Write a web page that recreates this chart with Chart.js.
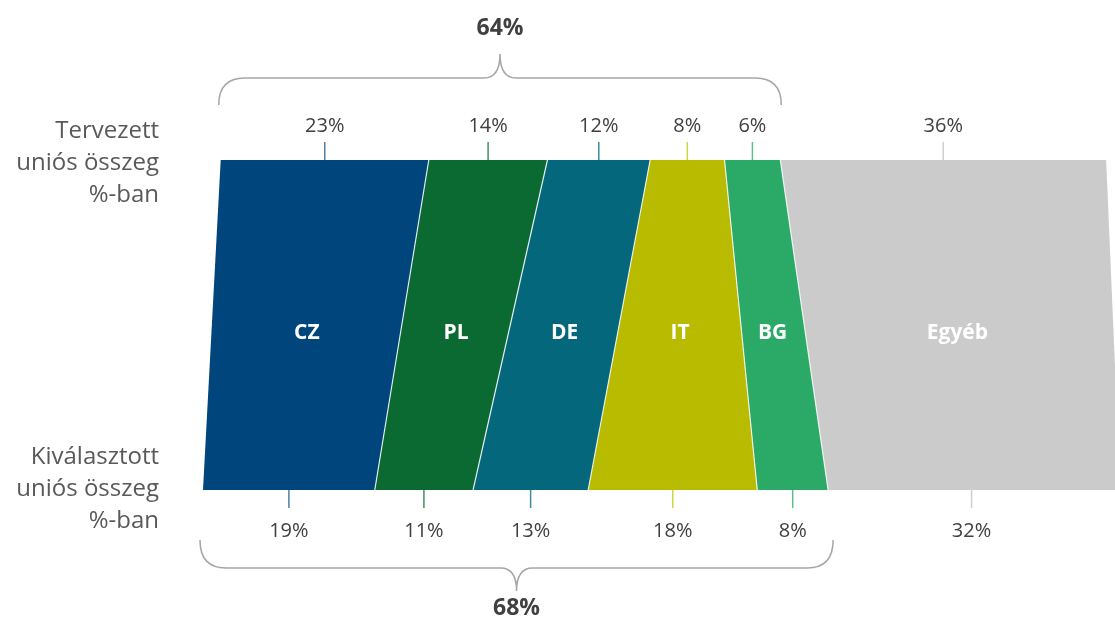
<!DOCTYPE html>
<html lang="hu">
<head>
<meta charset="utf-8">
<title>Tervezett és kiválasztott uniós összeg</title>
<script src="https://cdn.jsdelivr.net/npm/chart.js@4.4.1/dist/chart.umd.min.js"></script>
<style>
  html, body { margin: 0; padding: 0; background: #fff; }
  #wrap { width: 1115px; height: 635px; }
</style>
</head>
<body>
<div id="wrap"><canvas id="chart" width="1115" height="635"></canvas></div>
<script>
// --- data ---
const countries = ['CZ', 'PL', 'DE', 'IT', 'BG', 'Egyéb'];
const rowNames = ['Tervezett', 'Kiválasztott'];
const rowLabels = [
  ['Tervezett', 'uniós összeg', '%-ban'],
  ['Kiválasztott', 'uniós összeg', '%-ban']
];
// band widths as drawn (share of EU amount, %)
const plannedShare = [23.5, 13.4, 11.6, 8.4, 6.3, 36.8];
const selectedShare = [19.4, 11.1, 13.0, 19.1, 8.0, 33.0];
// values printed next to the bands
const plannedLabels = ['23%', '14%', '12%', '8%', '6%', '36%'];
const selectedLabels = ['19%', '11%', '13%', '18%', '8%', '32%'];
// first five countries together (top brace, bottom brace)
const groupTotals = ['64%', '68%'];

// --- styles ---
const fillColors = ['#00457b', '#0b6a32', '#04677c', '#b8bb00', '#2ba967', '#cbcbcc'];
const tickColors = ['#4d7fa6', '#3f9263', '#3a8c9e', '#d2d43c', '#5cbf8a', '#cfcfcf'];
const PLAN_SHIFT = 2; // top band starts a little to the right of the bottom one
const FONT = '"Open Sans", "Liberation Sans", sans-serif';

function cumulate(arr, start) {
  const out = [start];
  arr.forEach(v => out.push(out[out.length - 1] + v));
  return out;
}
const planEdges = cumulate(plannedShare, PLAN_SHIFT);
const selEdges = cumulate(selectedShare, 0);

// one line per band edge, each filled to the previous edge
const datasets = planEdges.map((p, i) => ({
  label: i === 0 ? 'start' : countries[i - 1],
  data: [p, selEdges[i]],
  fill: i === 0 ? false : '-1',
  backgroundColor: i === 0 ? 'transparent' : fillColors[i - 1],
  borderColor: (i === 0 || i === planEdges.length - 1) ? 'transparent' : 'rgba(255,255,255,0.85)',
  borderWidth: 1.2,
  pointRadius: 0,
  tension: 0
}));

function brace(ctx, x0, x1, yEnd, yBar, yTip) {
  const mid = (x0 + x1) / 2;
  ctx.beginPath();
  ctx.moveTo(x0, yEnd);
  ctx.quadraticCurveTo(x0, yBar, x0 + 26, yBar);
  ctx.lineTo(mid - 16, yBar);
  ctx.quadraticCurveTo(mid, yBar, mid, yTip);
  ctx.quadraticCurveTo(mid, yBar, mid + 16, yBar);
  ctx.lineTo(x1 - 26, yBar);
  ctx.quadraticCurveTo(x1, yBar, x1, yEnd);
  ctx.stroke();
}

const bandText = {
  id: 'bandText',
  afterDatasetsDraw(chart) {
    const { ctx, chartArea: a, scales: { x } } = chart;
    const top = a.top, bottom = a.bottom;
    ctx.save();
    ctx.textAlign = 'center';
    ctx.textBaseline = 'middle';

    countries.forEach((name, i) => {
      const tx = (x.getPixelForValue(planEdges[i]) + x.getPixelForValue(planEdges[i + 1])) / 2;
      const bx = (x.getPixelForValue(selEdges[i]) + Math.min(x.getPixelForValue(selEdges[i + 1]), a.right)) / 2;

      ctx.strokeStyle = tickColors[i];
      ctx.lineWidth = 1.5;
      ctx.beginPath();
      ctx.moveTo(tx, top - 18);
      ctx.lineTo(tx, top);
      ctx.moveTo(bx, bottom);
      ctx.lineTo(bx, bottom + 18);
      ctx.stroke();

      ctx.fillStyle = '#404040';
      ctx.font = '20px ' + FONT;
      ctx.fillText(plannedLabels[i], tx, top - 34);
      ctx.fillText(selectedLabels[i], bx, bottom + 41);

      ctx.fillStyle = '#ffffff';
      ctx.font = 'bold 21px ' + FONT;
      ctx.fillText(name, (tx + bx) / 2, (top + bottom) / 2 + 8);
    });

    // row titles on the left
    ctx.textAlign = 'right';
    ctx.fillStyle = '#595959';
    ctx.font = '24px ' + FONT;
    [top + 3, bottom - 1].forEach((cy, r) => {
      rowLabels[r].forEach((t, k) => ctx.fillText(t, 159, cy + (k - 1) * 32));
    });

    // braces round the first five countries
    ctx.strokeStyle = '#a6a6a6';
    ctx.lineWidth = 1.5;
    const tx0 = x.getPixelForValue(planEdges[0]) - 2;
    const tx1 = x.getPixelForValue(planEdges[5]) + 1;
    brace(ctx, tx0, tx1, top - 55, top - 82, top - 106);
    const bx0 = x.getPixelForValue(selEdges[0]) - 3;
    const bx1 = x.getPixelForValue(selEdges[5]) + 5;
    brace(ctx, bx0, bx1, bottom + 50, bottom + 78, bottom + 101);

    ctx.textAlign = 'center';
    ctx.fillStyle = '#404040';
    ctx.font = 'bold 23px ' + FONT;
    ctx.fillText(groupTotals[0], (tx0 + tx1) / 2, top - 132);
    ctx.fillText(groupTotals[1], (bx0 + bx1) / 2, bottom + 118);
    ctx.restore();
  }
};

new Chart(document.getElementById('chart'), {
  type: 'line',
  data: { labels: rowNames, datasets },
  options: {
    indexAxis: 'y',
    responsive: false,
    animation: false,
    layout: { padding: { left: 203, right: 0, top: 160, bottom: 145 } },
    scales: {
      x: { type: 'linear', min: 0, max: 103, display: false },
      y: { type: 'category', offset: false, display: false }
    },
    plugins: { legend: { display: false }, tooltip: { enabled: false } }
  },
  plugins: [bandText]
});
</script>
</body>
</html>
